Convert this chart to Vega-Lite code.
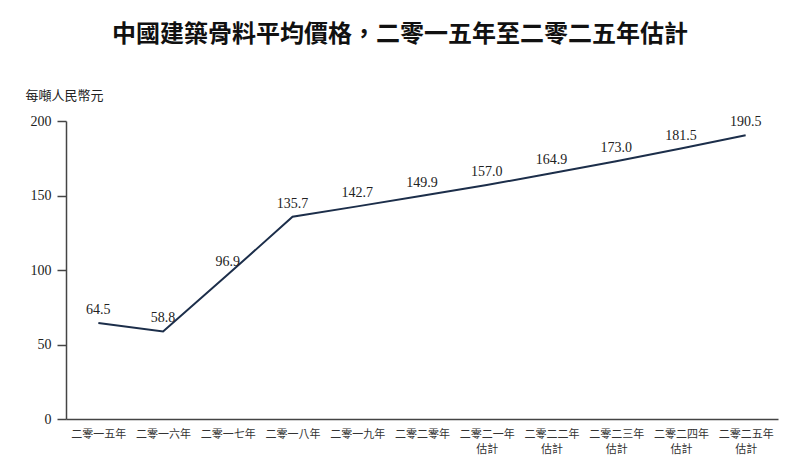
{
  "$schema": "https://vega.github.io/schema/vega-lite/v6.json",
  "autosize": "none",
  "width": 712,
  "height": 298,
  "padding": {"left": 66, "top": 121, "right": 32, "bottom": 50},
  "background": "white",
  "title": {
    "text": "中國建築骨料平均價格，二零一五年至二零二五年估計",
    "font": "Noto Sans CJK TC",
    "fontSize": 24,
    "fontWeight": "bold",
    "color": "#111111",
    "anchor": "middle",
    "dx": -22,
    "offset": 42
  },
  "data": {
    "values": [
      {"year": "二零一五年", "price": 64.5},
      {"year": "二零一六年", "price": 58.8},
      {"year": "二零一七年", "price": 96.9},
      {"year": "二零一八年", "price": 135.7},
      {"year": "二零一九年", "price": 142.7},
      {"year": "二零二零年", "price": 149.9},
      {"year": "二零二一年|估計", "price": 157.0},
      {"year": "二零二二年|估計", "price": 164.9},
      {"year": "二零二三年|估計", "price": 173.0},
      {"year": "二零二四年|估計", "price": 181.5},
      {"year": "二零二五年|估計", "price": 190.5}
    ]
  },
  "encoding": {
    "x": {
      "field": "year",
      "type": "ordinal",
      "sort": null,
      "scale": {"type": "point", "padding": 0.5},
      "axis": {
        "title": null,
        "labelAngle": 0,
        "labelExpr": "split(datum.value, '|')",
        "labelFont": "Noto Sans CJK TC",
        "labelFontSize": 11,
        "labelColor": "#333333",
        "labelPadding": 9,
        "labelLineHeight": 15,
        "ticks": false,
        "domainColor": "#444444",
        "domainWidth": 1.5,
        "grid": false
      }
    },
    "y": {
      "field": "price",
      "type": "quantitative",
      "scale": {"domain": [0, 200]},
      "axis": {
        "values": [0, 50, 100, 150, 200],
        "title": "每噸人民幣元",
        "titleAngle": 0,
        "titleAlign": "left",
        "titleBaseline": "middle",
        "titleX": -41,
        "titleY": -26,
        "titleFont": "Noto Sans CJK TC",
        "titleFontSize": 13,
        "titleFontWeight": "normal",
        "titleColor": "#222222",
        "labelFont": "Liberation Serif",
        "labelFontSize": 14,
        "labelColor": "#222222",
        "labelPadding": 6,
        "tickSize": 9,
        "tickColor": "#444444",
        "tickWidth": 1.5,
        "domainColor": "#444444",
        "domainWidth": 1.5,
        "grid": false
      }
    }
  },
  "layer": [
    {
      "mark": {"type": "line", "color": "#1c2e4a", "strokeWidth": 2}
    },
    {
      "mark": {
        "type": "text",
        "font": "Liberation Serif",
        "fontSize": 14,
        "color": "#222222",
        "dy": -13
      },
      "encoding": {
        "text": {"field": "price", "type": "quantitative", "format": ".1f"}
      }
    }
  ],
  "config": {
    "view": {"stroke": null}
  }
}
